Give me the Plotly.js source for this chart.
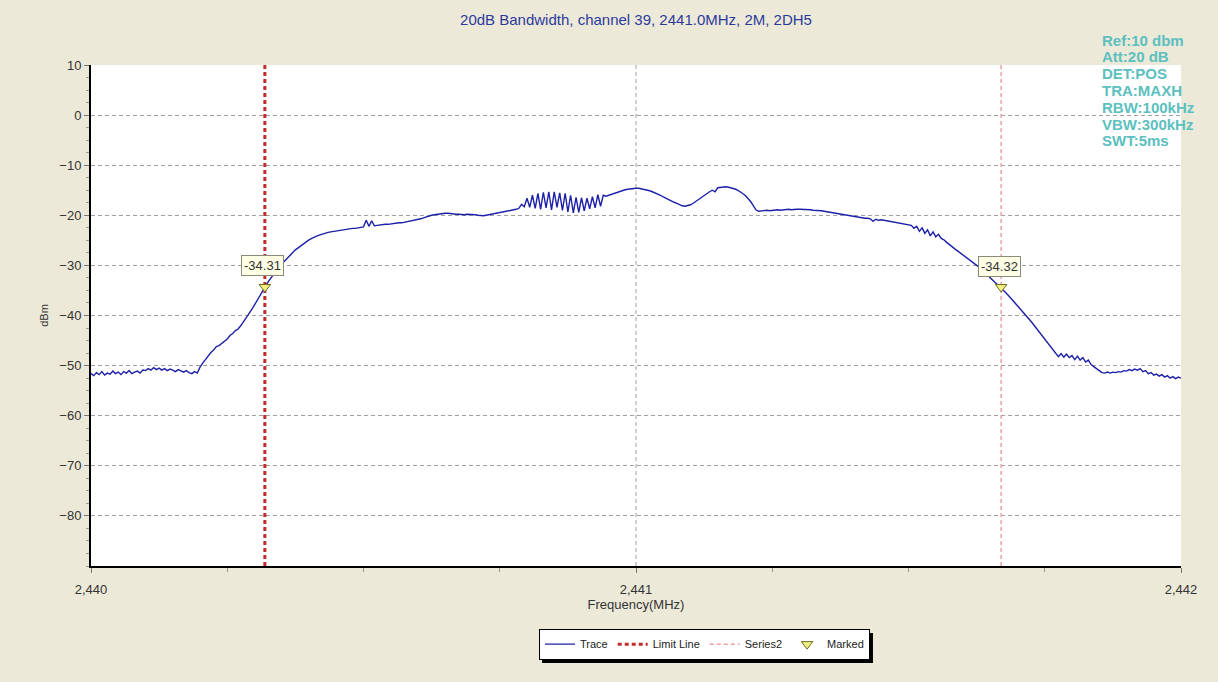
<!DOCTYPE html>
<html>
<head>
<meta charset="utf-8">
<script src="https://cdn.plot.ly/plotly-3.0.1.min.js"></script>
<style>html,body{margin:0;padding:0;background:#ECE9D8;}#chart{width:1218px;height:682px;}</style>
</head>
<body>
<div id="chart"></div>
<script>
// ---- data ----
const freqStart = 2440.0;   // MHz, first sample
const freqStep = 0.005;     // MHz between samples
const traceDbm = [
 -51.6,-52.0,-51.4,-51.8,-51.2,-51.9,-51.5,-51.7,-51.1,-51.6,-51.3,-51.8,-51.2,-51.5,-51.0,-51.6,-51.3,-51.1,-51.5,-50.9,
 -51.0,-50.6,-50.9,-50.4,-50.8,-50.5,-50.9,-50.6,-51.0,-50.7,-50.9,-51.2,-50.8,-51.1,-51.3,-51.0,-51.4,-51.6,-51.2,-51.5,
 -50.3,-49.5,-48.8,-48.0,-47.4,-46.9,-46.2,-46.0,-45.6,-45.1,-44.7,-44.0,-43.6,-43.0,-42.7,-42.0,-41.2,-40.6,-39.8,-38.8,
 -37.9,-36.9,-35.9,-35.0,-34.2,-33.3,-32.5,-31.7,-31.0,-30.3,-29.7,-29.1,-28.5,-28.0,-27.4,-26.9,-26.5,-26.1,-25.6,-25.2,
 -24.9,-24.6,-24.3,-24.1,-23.9,-23.7,-23.5,-23.4,-23.3,-23.2,-23.1,-23.0,-22.9,-22.9,-22.8,-22.7,-22.6,-22.6,-22.5,-22.4,
 -22.3,-21.0,-22.2,-21.1,-22.1,-22.0,-21.9,-21.9,-21.8,-21.8,-21.7,-21.7,-21.6,-21.5,-21.5,-21.4,-21.3,-21.2,-21.1,-21.0,
 -20.9,-20.7,-20.5,-20.3,-20.1,-20.0,-19.9,-19.8,-19.7,-19.7,-19.6,-19.6,-19.7,-19.7,-19.8,-19.8,-19.9,-19.9,-19.8,-19.8,
 -19.8,-19.9,-20.0,-20.1,-20.1,-20.0,-19.9,-19.8,-19.7,-19.6,-19.5,-19.4,-19.3,-19.2,-19.1,-19.0,-18.8,-18.6,-17.8,-18.3,
 -16.6,-18.4,-16.0,-18.6,-15.6,-18.8,-15.4,-18.5,-15.3,-18.9,-15.3,-18.4,-15.5,-19.0,-15.6,-19.3,-16.0,-19.5,-16.4,-19.4,
 -16.5,-19.1,-16.6,-18.7,-16.3,-18.5,-15.9,-18.2,-16.0,-16.2,-16.0,-15.8,-15.6,-15.4,-15.2,-15.0,-14.9,-14.8,-14.7,-14.6,
 -14.6,-14.6,-14.7,-14.8,-14.9,-15.1,-15.3,-15.5,-15.8,-16.0,-16.3,-16.6,-16.9,-17.2,-17.4,-17.6,-17.9,-18.1,-18.2,-18.1,
 -17.9,-17.6,-17.2,-16.8,-16.4,-16.0,-15.6,-15.3,-15.0,-15.3,-14.5,-14.4,-14.3,-14.3,-14.4,-14.5,-14.7,-14.9,-15.2,-15.6,
 -16.0,-16.5,-17.2,-18.0,-18.9,-19.2,-19.1,-19.1,-19.0,-19.1,-19.0,-19.0,-18.9,-19.0,-18.9,-18.9,-18.8,-18.9,-18.8,-18.8,
 -18.8,-18.8,-18.9,-18.9,-18.9,-19.0,-19.0,-19.1,-19.1,-19.2,-19.3,-19.3,-19.4,-19.5,-19.6,-19.7,-19.8,-19.9,-20.0,-20.1,
 -20.2,-20.3,-20.4,-20.5,-20.6,-20.6,-20.7,-21.2,-20.8,-21.0,-20.9,-21.0,-21.1,-21.1,-21.2,-21.3,-21.4,-21.5,-21.6,-21.7,
 -21.8,-22.0,-22.6,-22.2,-23.2,-22.5,-23.6,-22.9,-24.1,-23.3,-24.3,-23.8,-24.6,-24.9,-25.4,-25.9,-26.3,-26.7,-27.1,-27.5,
 -27.9,-28.3,-28.7,-29.1,-29.5,-29.9,-30.4,-30.9,-31.4,-31.9,-32.4,-32.9,-33.4,-33.9,-34.4,-35.0,-35.6,-36.2,-36.8,-37.4,
 -38.0,-38.6,-39.2,-39.9,-40.5,-41.2,-41.9,-42.6,-43.2,-43.9,-44.6,-45.2,-45.9,-46.6,-47.3,-48.2,-47.6,-48.3,-47.7,-48.4,
 -48.0,-48.8,-48.1,-48.9,-48.4,-49.3,-48.9,-49.8,-50.2,-50.7,-51.0,-51.4,-51.5,-51.3,-51.5,-51.3,-51.4,-51.2,-51.3,-51.0,
 -51.1,-50.8,-51.0,-50.7,-50.9,-50.6,-51.2,-51.0,-51.6,-51.4,-51.9,-51.7,-52.1,-51.8,-52.3,-52.0,-52.5,-52.2,-52.6,-52.3,
 -52.5
];
const limitLineX = [2440.319, 2440.319];
const series2X = [2441.670, 2441.670];
const verticalY = [-90, 10];
const markedX = [2440.319, 2441.670];
const markedY = [-34.31, -34.32];
const xTickVals = [2440, 2441, 2442];
const xTickText = ['2,440', '2,441', '2,442'];
const yTickVals = [10, 0, -10, -20, -30, -40, -50, -60, -70, -80];
const yRange = [-90, 10];
const xRange = [2440, 2442];
const titleText = '20dB Bandwidth, channel 39, 2441.0MHz, 2M, 2DH5';
const settingsLines = ['Ref:10 dbm', 'Att:20 dB', 'DET:POS', 'TRA:MAXH', 'RBW:100kHz', 'VBW:300kHz', 'SWT:5ms'];

// ---- chart ----
const font = 'Arial, "Liberation Sans", sans-serif';
const plotTopPx = 65, plotHeightPx = 501;
const traces = [
  {type: 'scatter', mode: 'lines', name: 'Trace', x0: freqStart, dx: freqStep, y: traceDbm,
   line: {color: '#1C20A8', width: 1.4}},
  {type: 'scatter', mode: 'lines', name: 'Limit Line', x: limitLineX, y: verticalY,
   line: {color: '#C42A2A', width: 3, dash: '4px,3px'}},
  {type: 'scatter', mode: 'lines', name: 'Series2', x: series2X, y: verticalY,
   line: {color: '#F0A0A8', width: 1.5, dash: '4px,3px'}},
  {type: 'scatter', mode: 'markers', name: 'Marked', x: markedX, y: markedY,
   marker: {symbol: 'triangle-down', size: 10, color: '#F4F080', line: {color: '#6B6B20', width: 1}}}
];

const annotations = markedX.map((x, i) => ({
  x: x, y: markedY[i], xref: 'x', yref: 'y', text: markedY[i].toFixed(2), showarrow: false,
  yshift: 21, xshift: -2, bgcolor: '#FFFFE6', bordercolor: '#8A8A7A', borderwidth: 1, borderpad: 2,
  font: {family: font, size: 13, color: '#333333'}
}));
settingsLines.forEach((s, i) => {
  annotations.push({
    xref: 'paper', yref: 'paper', x: 0.9255, y: 1 + (plotTopPx - (40 + i * 16.8)) / plotHeightPx,
    xanchor: 'left', yanchor: 'middle', align: 'left', showarrow: false, text: '<b>' + s + '</b>',
    font: {family: font, size: 15, color: '#5CC0C0'}
  });
});

const layout = {
  width: 1218, height: 682,
  paper_bgcolor: '#ECE9D8', plot_bgcolor: '#FFFFFF',
  margin: {l: 91, r: 37, t: 65, b: 116},
  showlegend: true,
  title: {text: titleText, font: {family: font, size: 15, color: '#2C3A9E'}, x: 0.5, xref: 'paper', y: 0.971, yanchor: 'middle'},
  xaxis: {range: xRange, tickvals: xTickVals, ticktext: xTickText, showgrid: false, zeroline: false,
    showline: true, linecolor: '#000000', linewidth: 2, ticks: 'outside', ticklen: 5, tickcolor: '#777777',
    ticklabelstandoff: 5,
    minor: {dtick: 0.25, ticks: 'outside', ticklen: 4, tickcolor: '#999999', showgrid: false},
    tickfont: {family: font, size: 13, color: '#333333'},
    title: {text: 'Frequency(MHz)', font: {family: font, size: 13, color: '#333333'}, standoff: 2}},
  yaxis: {range: yRange, tickvals: yTickVals, showgrid: true, gridcolor: '#A0A0A0', gridwidth: 1, griddash: '4px,3px',
    zeroline: false, showline: true, linecolor: '#000000', linewidth: 2, ticks: 'outside', ticklen: 5, tickcolor: '#777777',
    minor: {dtick: 2.5, ticks: 'outside', ticklen: 3, tickcolor: '#999999', showgrid: false},
    tickfont: {family: font, size: 13, color: '#333333'},
    title: {text: 'dBm', font: {family: font, size: 11, color: '#333333'}, standoff: 8}},
  legend: {orientation: 'h', x: 0.411, xanchor: 'left', y: -0.125, yanchor: 'top',
    bgcolor: '#FFFFFF', bordercolor: '#000000', borderwidth: 1,
    font: {family: font, size: 11, color: '#222222'}},
  shapes: [
    {type: 'line', xref: 'x', yref: 'paper', x0: xTickVals[1], x1: xTickVals[1], y0: 0, y1: 1,
     line: {color: '#A0A0A0', width: 1, dash: '4px,3px'}, layer: 'below'},
    {type: 'rect', xref: 'paper', yref: 'paper', x0: 0.4138, x1: 0.7174, y0: -0.1936, y1: -0.1337,
     fillcolor: '#000000', line: {width: 0}, layer: 'above'}
  ],
  annotations: annotations
};

Plotly.newPlot('chart', traces, layout, {displayModeBar: false, staticPlot: true});
</script>
</body>
</html>
